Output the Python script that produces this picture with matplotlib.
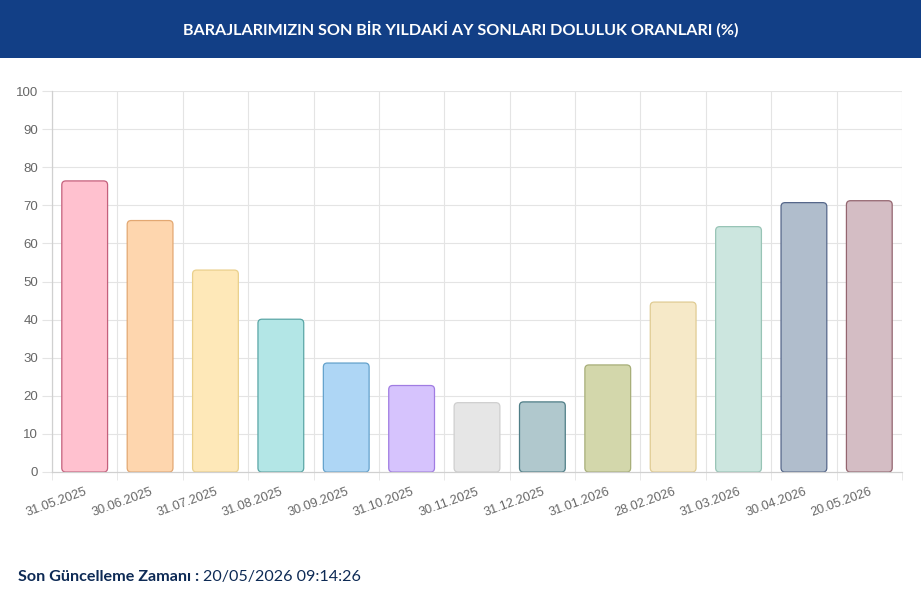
import matplotlib
matplotlib.use("Agg")
import matplotlib.pyplot as plt
from matplotlib.patches import FancyBboxPatch

# month-end fill ratios (%)
dates = ["31.05.2025", "30.06.2025", "31.07.2025", "31.08.2025", "30.09.2025",
         "31.10.2025", "30.11.2025", "31.12.2025", "31.01.2026", "28.02.2026",
         "31.03.2026", "30.04.2026", "20.05.2026"]
ratios = [76.4, 66.0, 53.0, 40.1, 28.6, 22.7, 18.2, 18.4, 28.1, 44.6, 64.4, 70.7, 71.2]

fills = ["#ffc1cf", "#fed6ae", "#fee8b8", "#b3e6e6", "#aed6f5", "#d6c3fd", "#e6e6e6",
         "#b0c8cd", "#d3d7ab", "#f6e9c8", "#cce6df", "#b0bdcc", "#d4bdc4"]
edges = ["#c4607c", "#e3a872", "#ead08c", "#5aa6a6", "#64a2cc", "#a07ce2", "#cfcfcf",
         "#4e7d86", "#a7ae78", "#e0cc94", "#98c4b6", "#55678a", "#94656f"]

title = "BARAJLARIMIZIN SON BİR YILDAKİ AY SONLARI DOLULUK ORANLARI (%)"

W, H = 921, 607
fig = plt.figure(figsize=(W / 100, H / 100), dpi=100)
fig.patch.set_facecolor("white")

# header band
fig.patches.append(plt.Rectangle((0, 1 - 58 / H), 1, 58 / H, transform=fig.transFigure,
                                 facecolor="#123f86", edgecolor="none", zorder=0))
fig.text(0.5, 1 - 29 / H, title, color="white", ha="center", va="center",
         fontsize=11.6, fontweight="bold", family="Lato")

ax = fig.add_axes([52 / W, 1 - 472 / H, (902 - 52) / W, (472 - 91) / H])
x = list(range(len(dates)))
bars = ax.bar(x, ratios, width=0.7, color=fills, edgecolor=edges, linewidth=1, zorder=2)

# rounded corners (replace rectangles with rounded boxes of same geometry)
px_per_x = (902 - 52) / len(dates)
px_per_y = (472 - 91) / 100
for b in bars:
    bx, by, bw, bh = b.get_x(), b.get_y(), b.get_width(), b.get_height()
    r = 4 / px_per_x
    p = FancyBboxPatch((bx, by), bw, bh,
                       boxstyle="round,pad=0,rounding_size=%f" % r,
                       mutation_aspect=px_per_x / px_per_y,
                       facecolor=b.get_facecolor(), edgecolor=b.get_edgecolor(),
                       linewidth=0.9, zorder=2)
    b.set_visible(False)
    ax.add_patch(p)

ax.set_xlim(-0.5, len(dates) - 0.5)
ax.set_ylim(0, 100)
ax.set_yticks(range(0, 101, 10))

# grid lines on category boundaries
for i in range(len(dates) + 1):
    ax.axvline(i - 0.5, color="#e4e4e4", lw=0.8, zorder=0)
for v in range(10, 101, 10):
    ax.axhline(v, color="#e4e4e4", lw=0.8, zorder=0)

ax.set_xticks(x)
ax.set_xticklabels(dates, rotation=20, ha="right", rotation_mode="anchor",
                   fontsize=9.2, color="#666666", family="Liberation Sans")
ax.tick_params(axis="x", length=0, pad=10)
ax.set_xticks([i - 0.5 for i in range(len(dates) + 1)], minor=True)
ax.tick_params(axis="x", which="minor", length=6, color="#e4e4e4")
ax.tick_params(axis="y", length=7, color="#e4e4e4", labelsize=9.5, labelcolor="#666666", pad=3)
for lbl in ax.get_yticklabels():
    lbl.set_family("Liberation Sans")

for s in ["top", "right"]:
    ax.spines[s].set_visible(False)
ax.spines["left"].set_color("#d0d0d0")
ax.spines["bottom"].set_color("#d0d0d0")
ax.spines["left"].set_linewidth(0.9)
ax.spines["bottom"].set_linewidth(0.9)

# footer
t1 = fig.text(18 / W, 1 - 577 / H, "Son Güncelleme Zamanı : ", color="#0d2a55",
              fontsize=11.6, fontweight="bold", family="Lato", va="center")
fig.canvas.draw()
bb = t1.get_window_extent()
fig.text(bb.x1 / W, 1 - 577 / H, "20/05/2026 09:14:26", color="#0d2a55",
         fontsize=11.6, family="Lato", va="center")

fig.savefig("out.png", dpi=100)
